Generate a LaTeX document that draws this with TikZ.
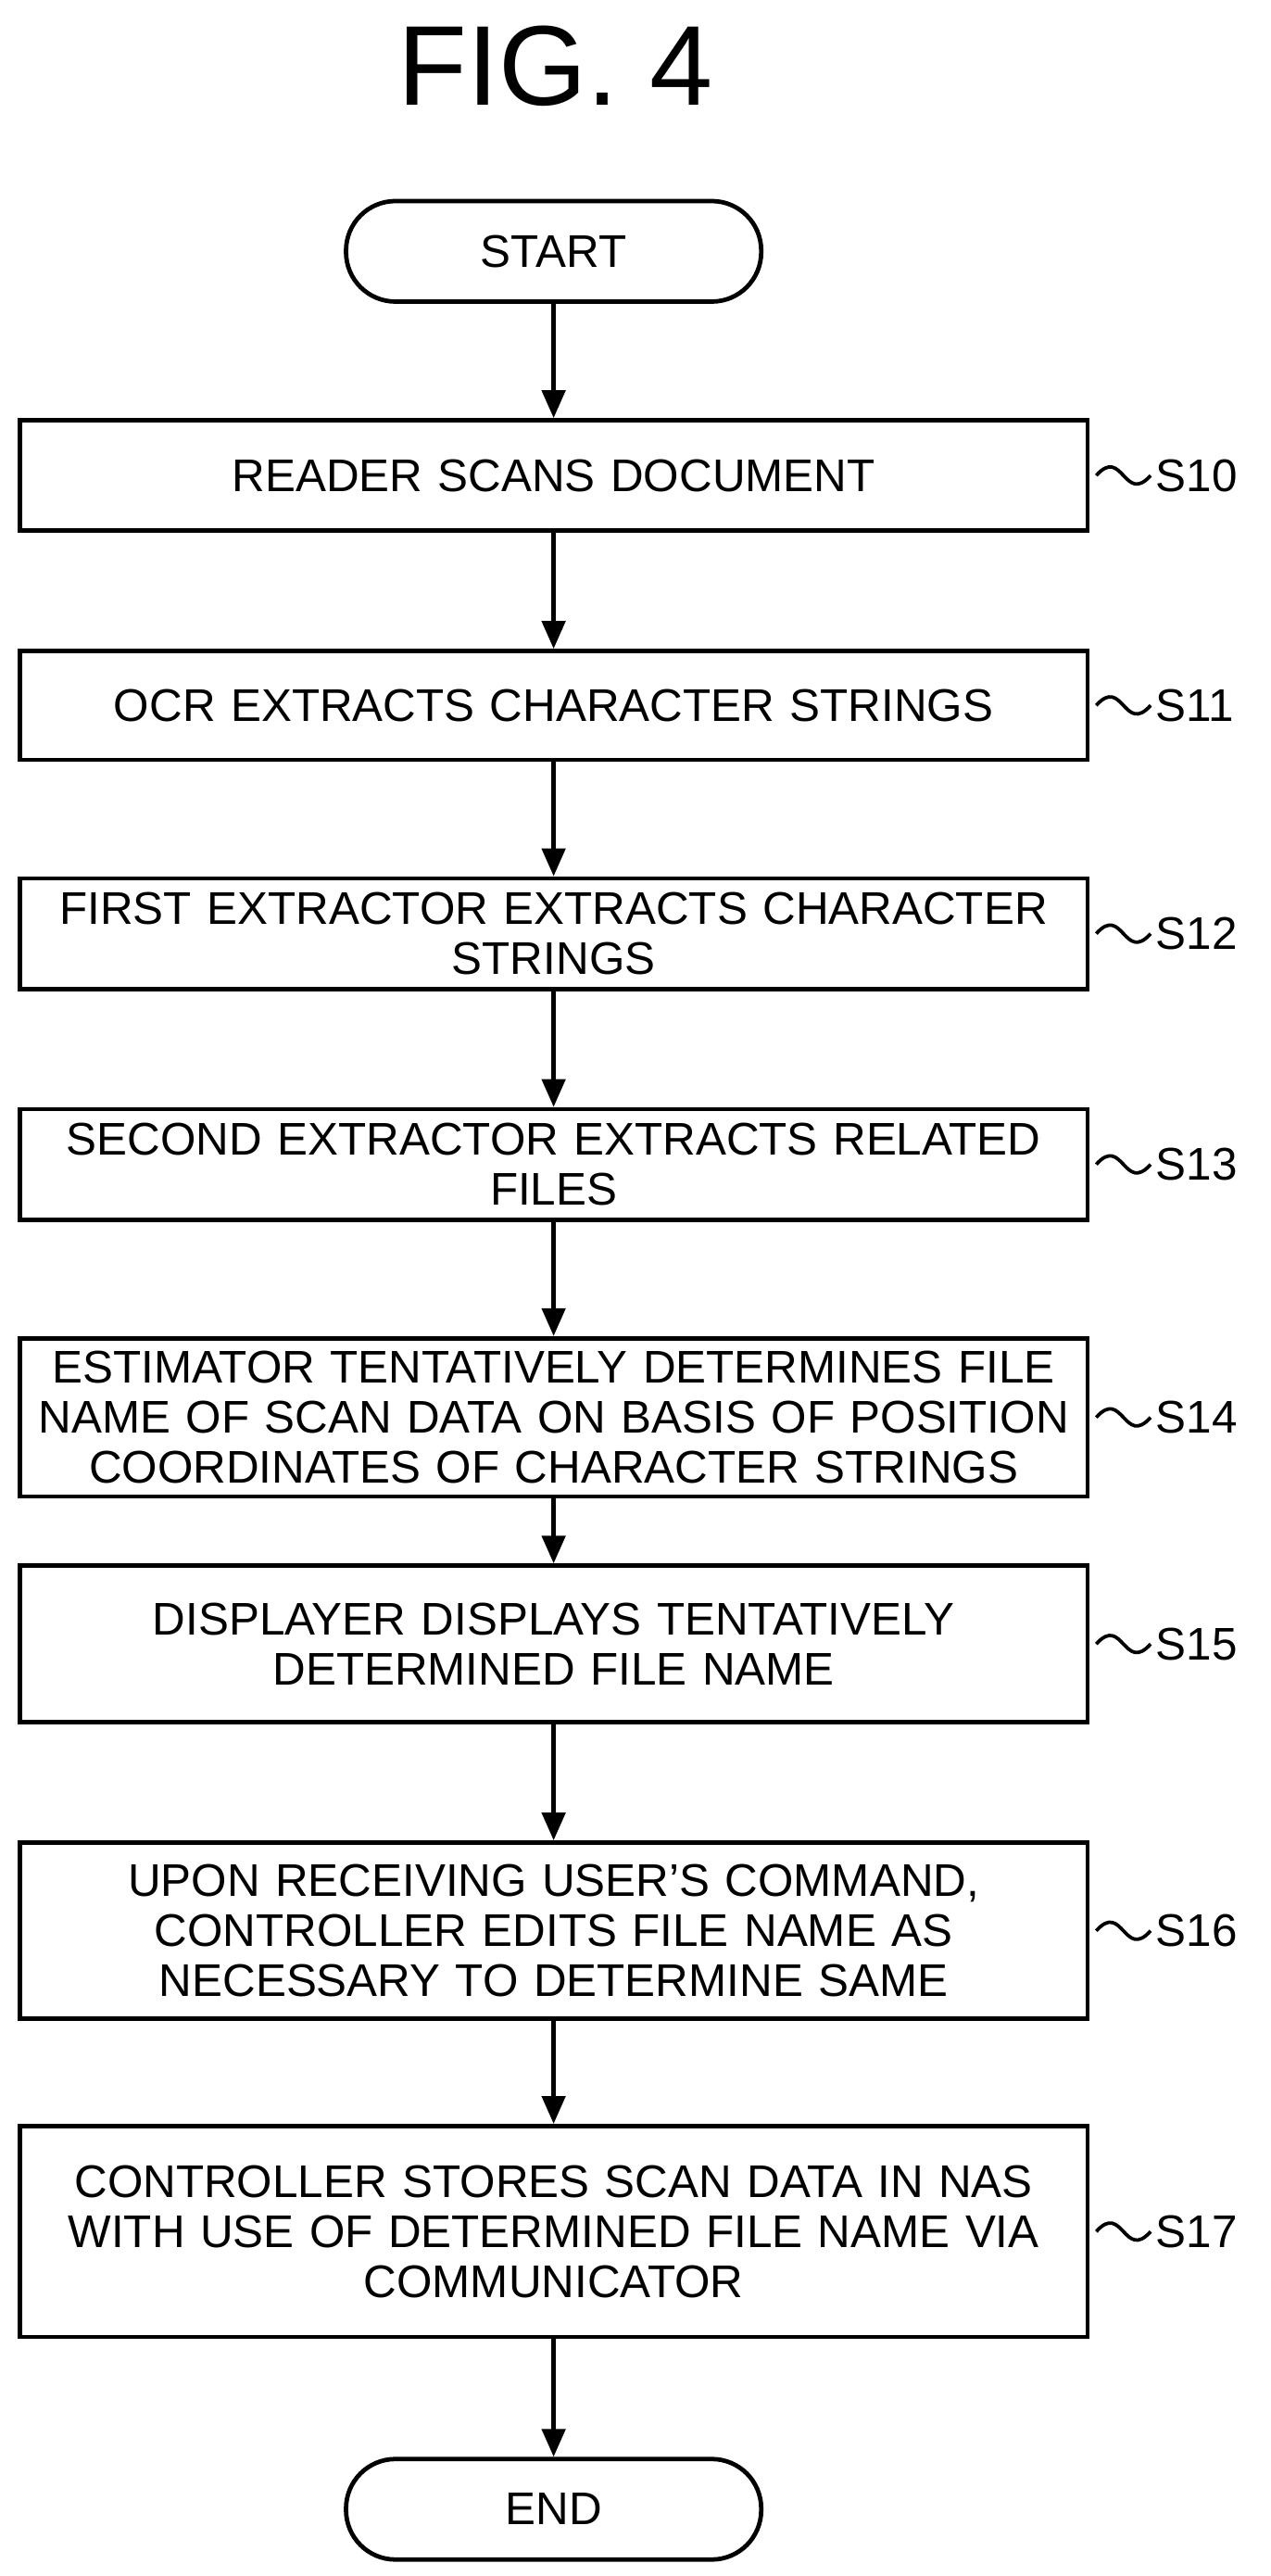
\documentclass[tikz,border=0pt]{standalone}
\usepackage{fontspec}
\setmainfont{Liberation Sans}
\usetikzlibrary{arrows.meta}
\begin{document}
\begin{tikzpicture}[x=0.05cm,y=-0.05cm,
  box/.style={draw,line width=3.8pt,minimum width=32.4cm,text width=31.5cm,align=center,font=\fontsize{39.5}{43}\selectfont,inner sep=0pt},
  term/.style={draw,line width=3.8pt,minimum width=12.6cm,minimum height=3.05cm,rounded corners=1.5cm,font=\fontsize{39.5}{43}\selectfont},
  arr/.style={line width=3.8pt,-{Triangle[length=24pt,width=20pt]}},
  lab/.style={font=\fontsize{39.5}{43}\selectfont,anchor=west,inner sep=0pt},
  sq/.style={line width=3pt}]
\useasboundingbox (0,0) rectangle (771,1563);
\node[font=\fontsize{98}{100}\selectfont] at (337,40) {FIG. 4};
\node[term] (st) at (336,152.5) {START};
\node[box,minimum height=3.35cm] (s10) at (336,288.5) {READER SCANS DOCUMENT};
\node[box,minimum height=3.3cm] (s11) at (336,428) {OCR EXTRACTS CHARACTER STRINGS};
\node[box,minimum height=3.35cm] (s12) at (336,566.5) {FIRST EXTRACTOR EXTRACTS CHARACTER\\STRINGS};
\node[box,minimum height=3.35cm] (s13) at (336,706.5) {SECOND EXTRACTOR EXTRACTS RELATED\\FILES};
\node[box,minimum height=4.8cm] (s14) at (336,860) {ESTIMATOR TENTATIVELY DETERMINES FILE\\NAME OF SCAN DATA ON BASIS OF POSITION\\COORDINATES OF CHARACTER STRINGS};
\node[box,minimum height=4.75cm] (s15) at (336,997.5) {DISPLAYER DISPLAYS TENTATIVELY\\DETERMINED FILE NAME};
\node[box,minimum height=5.35cm] (s16) at (336,1171.5) {UPON RECEIVING USER'S COMMAND,\\CONTROLLER EDITS FILE NAME AS\\NECESSARY TO DETERMINE SAME};
\node[box,minimum height=6.4cm] (s17) at (336,1354) {CONTROLLER STORES SCAN DATA IN NAS\\WITH USE OF DETERMINED FILE NAME VIA\\COMMUNICATOR};
\node[term] (en) at (336,1522.5) {END};
\draw[arr] (st) -- (s10);
\draw[arr] (s10) -- (s11);
\draw[arr] (s11) -- (s12);
\draw[arr] (s12) -- (s13);
\draw[arr] (s13) -- (s14);
\draw[arr] (s14) -- (s15);
\draw[arr] (s15) -- (s16);
\draw[arr] (s16) -- (s17);
\draw[arr] (s17) -- (en);
\foreach \b/\t in {s10/S10,s11/S11,s12/S12,s13/S13,s14/S14,s15/S15,s16/S16,s17/S17}{
  \node[lab] (l\b) at ([xshift=2cm]\b.east) {\t};
  \draw[sq] ([xshift=0.2cm]\b.east) .. controls +(0.8cm,0.9cm) and +(-0.8cm,-0.9cm) .. ([xshift=-0.15cm]l\b.west);
}
\end{tikzpicture}
\end{document}
